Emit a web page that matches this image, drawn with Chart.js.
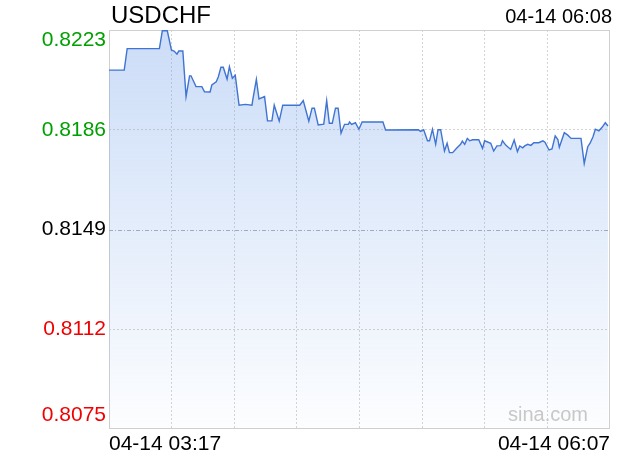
<!DOCTYPE html>
<html>
<head>
<meta charset="utf-8">
<script src="https://cdn.jsdelivr.net/npm/chart.js@4/dist/chart.umd.min.js"></script>
<style>
  html, body { margin: 0; padding: 0; background: #fff; }
</style>
</head>
<body>
<canvas id="fxChart" width="620" height="460"></canvas>
<script>
const symbol = "USDCHF";
const quoteTime = "04-14 06:08";
const xTickLabels = ["04-14 03:17", "", "", "", "", "", "", "", "04-14 06:07"];
const yTicks = [0.8075, 0.8112, 0.8149, 0.8186, 0.8223];
const prevClose = 0.8149;
const xMax = 171; // minutes shown after 03:17

// minutes after 03:17
const minutes = [
  0, 5.2, 6.2, 17.2, 18.2, 19.9, 21.3, 22.2, 23.2, 23.8,
  25.2, 26.3, 27.5, 28.0, 29.7, 31.7, 32.6, 34.5, 35.1, 36.6,
  37.3, 38.2, 39.0, 40.3, 41.1, 42.1, 43.1, 44.4, 46.5, 48.8,
  49.1, 50.3, 51.2, 53.1, 54.1, 55.6, 56.4, 58.1, 59.3, 65.1,
  66.3, 68.2, 69.3, 70.1, 71.4, 73.3, 74.3, 75.2, 76.2, 77.3,
  78.2, 79.2, 80.4, 81.7, 82.1, 82.8, 84.1, 85.3, 86.4, 93.5,
  94.4, 105.6, 106.3, 107.4, 108.7, 109.4, 110.4, 111.5, 112.3, 113.2,
  114.5, 115.4, 116.2, 117.3, 118.7, 120.0, 120.6, 121.4, 122.3, 123.1,
  124.1, 126.2, 127.5, 128.2, 130.3, 131.3, 132.4, 133.7, 134.3, 135.4,
  137.1, 138.3, 139.4, 140.2, 141.2, 141.9, 142.9, 144.0, 145.0, 146.7,
  148.1, 148.8, 150.2, 151.2, 152.3, 153.2, 153.7, 155.4, 156.6, 157.7,
  161.1, 162.2, 163.4, 164.2, 165.2, 166.0, 167.2, 168.3, 169.4, 170.3
];

const prices = [
  0.82081, 0.82081, 0.82161, 0.82161, 0.82227, 0.82227, 0.82156, 0.82152, 0.82141, 0.82152,
  0.82152, 0.81983, 0.82060, 0.82060, 0.82020, 0.82020, 0.82001, 0.82000, 0.82026, 0.82038,
  0.82056, 0.82092, 0.82092, 0.82048, 0.82094, 0.82051, 0.82062, 0.81951, 0.81954, 0.81951,
  0.81973, 0.82047, 0.81974, 0.81983, 0.81893, 0.81893, 0.81951, 0.81892, 0.81951, 0.81951,
  0.81968, 0.81892, 0.81940, 0.81940, 0.81878, 0.81881, 0.81968, 0.81884, 0.81884, 0.81940,
  0.81940, 0.81847, 0.81880, 0.81880, 0.81889, 0.81880, 0.81886, 0.81862, 0.81889, 0.81889,
  0.81859, 0.81860, 0.81854, 0.81860, 0.81819, 0.81819, 0.81862, 0.81806, 0.81860, 0.81860,
  0.81781, 0.81810, 0.81775, 0.81775, 0.81792, 0.81806, 0.81818, 0.81806, 0.81828, 0.81819,
  0.81823, 0.81823, 0.81791, 0.81819, 0.81810, 0.81781, 0.81800, 0.81801, 0.81819, 0.81803,
  0.81787, 0.81822, 0.81779, 0.81800, 0.81793, 0.81800, 0.81806, 0.81802, 0.81812, 0.81812,
  0.81819, 0.81814, 0.81785, 0.81789, 0.81837, 0.81824, 0.81795, 0.81849, 0.81840, 0.81828,
  0.81828, 0.81735, 0.81797, 0.81810, 0.81834, 0.81862, 0.81856, 0.81869, 0.81886, 0.81874
];

const FONT = "'Liberation Sans', Arial, sans-serif";

// frame, prev close line, watermark, axis text
const decor = {
  id: "decor",
  beforeDatasetsDraw(chart) {
    const { ctx, chartArea: a } = chart;
    ctx.save();
    ctx.strokeStyle = "#d0d0d0";
    ctx.lineWidth = 1;
    ctx.strokeRect(a.left + 0.5, a.top + 0.5, a.right - a.left - 1, a.bottom - a.top - 1);
    ctx.restore();
  },
  afterDatasetsDraw(chart) {
    const { ctx, chartArea: a, scales: { y } } = chart;
    ctx.save();
    ctx.fillStyle = "#c8c8c8";
    ctx.font = "20px " + FONT;
    ctx.textAlign = "right";
    ctx.textBaseline = "middle";
    ctx.fillText("sina.com", a.right - 22, a.bottom - 14);

    const py = Math.round(y.getPixelForValue(prevClose)) + 0.5;
    ctx.strokeStyle = "#a8a8b8";
    ctx.lineWidth = 1;
    ctx.setLineDash([4, 2, 1, 2]);
    ctx.beginPath();
    ctx.moveTo(a.left, py);
    ctx.lineTo(a.right, py);
    ctx.stroke();
    ctx.restore();
  },
  afterDraw(chart) {
    const { ctx, chartArea: a, scales: { y } } = chart;
    ctx.save();
    ctx.font = "21px " + FONT;
    ctx.textAlign = "right";
    ctx.textBaseline = "middle";
    yTicks.forEach(v => {
      let py = y.getPixelForValue(v);
      if (py < a.top + 10) py = a.top + 10;
      if (py > a.bottom - 14) py = a.bottom - 14;
      ctx.fillStyle = v > prevClose ? "#00a000" : v < prevClose ? "#f00000" : "#000";
      ctx.fillText(v.toFixed(4), a.left - 3, py);
    });

    ctx.fillStyle = "#000";
    ctx.textAlign = "left";
    ctx.textBaseline = "alphabetic";
    ctx.font = "24px " + FONT;
    ctx.fillText(symbol, a.left + 2, 23);
    ctx.textAlign = "right";
    ctx.font = "20px " + FONT;
    ctx.fillText(quoteTime, a.right + 2, 23);
    ctx.restore();
  }
};

new Chart(document.getElementById("fxChart"), {
  type: "line",
  data: {
    datasets: [{
      data: minutes.map((m, i) => ({ x: m, y: prices[i] })),
      borderColor: "#3f74d2",
      borderWidth: 1.4,
      pointRadius: 0,
      tension: 0,
      fill: "start",
      backgroundColor: ctx => {
        const a = ctx.chart.chartArea;
        if (!a) return "rgba(120,165,235,0.3)";
        const g = ctx.chart.ctx.createLinearGradient(0, a.top, 0, a.bottom);
        g.addColorStop(0, "rgba(120,165,235,0.38)");
        g.addColorStop(1, "rgba(120,165,235,0.02)");
        return g;
      }
    }]
  },
  options: {
    responsive: false,
    animation: false,
    layout: { padding: { top: 30, right: 10, left: 0, bottom: 0 } },
    plugins: { legend: { display: false }, tooltip: { enabled: false } },
    scales: {
      x: {
        type: "linear",
        min: 0,
        max: xMax,
        afterBuildTicks: s => {
          s.ticks = xTickLabels.map((t, i) => ({ value: i * xMax / 8 }));
        },
        afterFit: s => { s.height = 31; },
        border: { display: false, dash: [2, 2] },
        grid: {
          drawTicks: false,
          color: c => (c.index === 0 || c.index === 8) ? "rgba(0,0,0,0)" : "#d4d4d4"
        },
        ticks: {
          align: "inner",
          maxRotation: 0,
          autoSkip: false,
          padding: 3,
          color: "#000",
          font: { family: FONT, size: 21 },
          callback: (v, i) => xTickLabels[i]
        }
      },
      y: {
        min: yTicks[0],
        max: yTicks[yTicks.length - 1],
        afterBuildTicks: s => { s.ticks = yTicks.map(v => ({ value: v })); },
        afterFit: s => { s.width = 109; },
        border: { display: false, dash: [2, 2] },
        grid: {
          drawTicks: false,
          color: c => (c.tick && (c.tick.value === 0.8186 || c.tick.value === 0.8112)) ? "#d4d4d4" : "rgba(0,0,0,0)"
        },
        ticks: { display: false }
      }
    }
  },
  plugins: [decor]
});
</script>
</body>
</html>
